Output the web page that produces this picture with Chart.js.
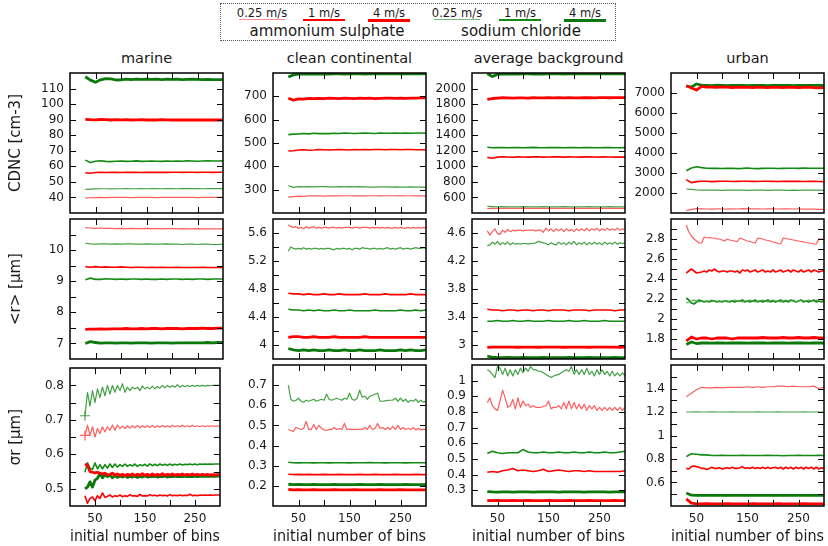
<!DOCTYPE html>
<html>
<head>
<meta charset="utf-8">
<script src="https://cdn.jsdelivr.net/npm/chart.js@4/dist/chart.umd.min.js"></script>
<style>
  body { margin: 0; background: #fff; width: 828px; height: 546px; position: relative; overflow: hidden;
         font-family: "DejaVu Sans", sans-serif; color: #1a1a1a; }
  canvas { position: absolute; }
  .region { position: absolute; top: 49px; width: 153px; text-align: center; font-size: 14.5px; line-height: 18px; }
  #legend { position: absolute; left: 220px; top: 3px; width: 396px; height: 38px; box-sizing: border-box;
            border: 1px dotted #555; }
  .speed { position: absolute; top: 2px; font-size: 11.5px; line-height: 14px; width: 70px; margin-left: -35px; text-align: center; }
  .seg { position: absolute; }
  .group { position: absolute; top: 18px; font-size: 15px; line-height: 18px; width: 200px; margin-left: -100px; text-align: center; }
</style>
</head>
<body>
<div id="legend"></div>
<script>
// bins used in the simulations (x axis)
const binsFine = [30,35,40,45,50,55,60,65,70,75,80,85,90,95,100,105,110,115,120,125,130,135,140,145,150,155,
  160,165,170,175,180,185,190,195,200,205,210,215,220,225,230,235,240,245,250,255,260,265,270,275,280,285,290,295,300];
const binsCoarse = [30,40,50,60,70,80,90,100,110,120,130,140,150,160,170,180,190,200,210,220,230,240,250,260,270,280,290,300];

const regions = ['marine', 'clean continental', 'average background', 'urban'];
const quantities = ['CDNC [cm-3]', '<r> [μm]', 'σr [μm]'];
const speeds = ['0.25 m/s', '1 m/s', '4 m/s'];

// ---- CDNC [cm-3]; each list: 0.25, 1, 4 m/s ----
const cdncMarineAS = [
  [39.7,39.8,39.9,40.0,39.9,40.0,40.0,40.1,40.0,39.9,40.0,40.1,40.0,40.0,39.9,40.0,40.1,40.0,40.0,40.0,40.1,40.0,39.9,40.0,40.0,40.1,40.0,40.0],
  [55.9,55.6,56.0,56.1,56.0,56.2,56.1,56.0,56.1,56.2,56.1,56.0,56.1,56.2,56.1,56.2,56.1,56.2,56.2,56.1,56.2,56.2,56.1,56.2,56.2,56.1,56.2,56.2],
  [90.2,90.0,89.9,90.1,90.0,89.8,90.0,89.9,90.0,89.8,89.9,90.0,89.8,89.9,89.8,90.0,89.9,89.8,89.9,89.8,89.9,89.8,89.9,89.8,89.9,89.8,89.8,89.8]
];
const cdncMarineNaCl = [
  [45.2,45.4,45.5,45.6,45.6,45.5,45.6,45.6,45.7,45.6,45.6,45.7,45.6,45.7,45.7,45.6,45.7,45.7,45.6,45.7,45.7,45.7,45.7,45.6,45.7,45.7,45.7,45.7],
  [64.0,62.5,63.3,63.6,63.2,63.0,63.3,63.4,63.2,63.3,63.5,63.2,63.3,63.4,63.3,63.2,63.4,63.3,63.4,63.3,63.5,63.4,63.3,63.4,63.5,63.4,63.4,63.5],
  [117.6,115.4,114.0,115.6,116.4,116.2,115.5,115.6,116.0,115.8,116.0,115.9,116.1,115.9,116.0,115.8,116.0,115.9,116.0,115.8,115.9,116.0,115.9,115.8,115.9,115.8,115.8,115.8]
];
const cdncCleanAS = [
  [268,270,272,271,273,274,273,272,273,274,273,274,274,273,274,273,274,274,273,274,274,274,273,274,274,273,273,273],
  [466,467,470,471,469,470,472,471,470,471,472,471,470,472,471,472,471,472,472,471,472,472,471,472,472,471,471,471],
  [692,684,689,688,691,690,691,690,692,691,690,692,691,690,692,691,692,690,691,692,692,691,692,691,692,692,693,693]
];
const cdncCleanNaCl = [
  [318,310,313,312,313,312,313,313,312,312,313,312,313,312,313,312,311,311,312,312,311,312,311,311,312,311,311,311],
  [536,538,539,541,539,542,540,541,540,542,541,543,542,541,542,543,542,541,543,542,542,543,542,543,542,543,543,542],
  [783,792,795,796,795,796,795,796,795,796,796,795,796,797,796,795,796,796,797,796,796,797,796,796,797,796,796,797]
];
const cdncAverageAS = [
  [455,460,458,461,459,460,461,460,459,461,460,459,460,461,460,461,460,459,460,461,460,459,460,461,460,460,459,460],
  [1115,1105,1118,1124,1120,1117,1122,1120,1118,1121,1123,1119,1120,1122,1121,1119,1122,1120,1118,1121,1122,1120,1119,1121,1120,1118,1119,1118],
  [1860,1872,1878,1882,1879,1876,1881,1880,1878,1882,1879,1881,1883,1880,1882,1879,1883,1881,1880,1884,1882,1881,1883,1884,1882,1883,1884,1884]
];
const cdncAverageNaCl = [
  [485,482,480,481,480,479,480,481,480,479,480,481,480,479,480,481,480,479,480,480,481,480,479,480,481,480,480,480],
  [1245,1238,1240,1242,1238,1240,1243,1239,1241,1244,1240,1238,1242,1240,1241,1239,1242,1240,1238,1241,1240,1239,1238,1241,1240,1239,1238,1240],
  [2190,2155,2182,2187,2185,2189,2187,2190,2188,2186,2189,2187,2190,2188,2189,2187,2190,2188,2189,2191,2189,2190,2188,2189,2190,2189,2188,2189]
];
const cdncUrbanAS = [
  [1120,1180,1220,1210,1200,1195,1205,1200,1195,1210,1200,1215,1205,1210,1205,1200,1210,1205,1200,1210,1205,1200,1205,1195,1200,1190,1185,1180],
  [2660,2520,2570,2590,2585,2570,2580,2590,2585,2575,2580,2590,2585,2580,2575,2585,2590,2580,2575,2585,2580,2580,2585,2575,2580,2585,2575,2570],
  [7360,7250,7150,7330,7290,7300,7280,7310,7290,7270,7300,7280,7290,7270,7300,7280,7270,7290,7280,7270,7290,7280,7270,7280,7290,7270,7260,7270]
];
const cdncUrbanNaCl = [
  [2200,2180,2150,2140,2145,2150,2140,2135,2140,2145,2150,2140,2135,2140,2145,2140,2135,2140,2145,2140,2135,2140,2135,2140,2145,2140,2140,2135],
  [3110,3250,3310,3270,3240,3230,3235,3225,3230,3240,3220,3230,3250,3225,3220,3230,3240,3235,3225,3230,3240,3235,3230,3245,3240,3235,3240,3240],
  [7350,7300,7450,7390,7380,7370,7390,7380,7370,7385,7375,7380,7370,7385,7375,7380,7370,7380,7385,7375,7380,7370,7380,7375,7385,7380,7375,7380]
];

// ---- mean radius <r> [um] ----
const radMarineAS = [
  [10.72,10.71,10.70,10.71,10.70,10.70,10.69,10.70,10.69,10.70,10.69,10.69,10.70,10.69,10.69,10.68,10.69,10.69,10.68,10.69,10.68,10.68,10.69,10.68,10.68,10.68,10.68,10.68],
  [9.47,9.45,9.47,9.45,9.46,9.45,9.45,9.46,9.45,9.44,9.45,9.45,9.44,9.45,9.44,9.45,9.44,9.44,9.45,9.44,9.44,9.44,9.44,9.45,9.44,9.44,9.44,9.44],
  [7.45,7.46,7.46,7.47,7.46,7.47,7.47,7.47,7.48,7.47,7.47,7.48,7.47,7.48,7.48,7.47,7.48,7.48,7.48,7.47,7.48,7.48,7.48,7.49,7.48,7.48,7.49,7.49]
];
const radMarineNaCl = [
  [10.22,10.20,10.19,10.20,10.20,10.19,10.20,10.19,10.20,10.20,10.19,10.19,10.20,10.19,10.19,10.19,10.20,10.19,10.19,10.18,10.19,10.19,10.18,10.19,10.19,10.18,10.18,10.19],
  [9.05,9.10,9.06,9.06,9.08,9.07,9.06,9.07,9.06,9.07,9.07,9.06,9.07,9.06,9.06,9.07,9.06,9.07,9.07,9.06,9.07,9.06,9.07,9.07,9.06,9.07,9.07,9.07],
  [7.00,7.06,7.03,7.01,7.02,7.02,7.01,7.02,7.02,7.01,7.02,7.02,7.02,7.01,7.02,7.02,7.02,7.01,7.02,7.02,7.02,7.02,7.02,7.02,7.03,7.02,7.03,7.03]
];
const radCleanAS = [
  [5.72,5.69,5.68,5.69,5.67,5.68,5.66,5.69,5.67,5.68,5.69,5.67,5.68,5.67,5.68,5.68,5.67,5.68,5.68,5.67,5.68,5.67,5.68,5.68,
   5.68,5.67,5.68,5.68,5.67,5.68,5.68,5.68,5.67,5.68,5.67,5.68,5.67,5.68,5.67,5.68,5.67,5.67,5.68,5.67,5.68,5.67,5.67,5.68,
   5.67,5.68,5.67,5.68,5.67,5.68,5.67],
  [4.74,4.73,4.73,4.72,4.73,4.72,4.72,4.73,4.72,4.72,4.73,4.72,4.72,4.72,4.72,4.73,4.72,4.72,4.72,4.73,4.72,4.72,4.72,4.72,4.73,4.72,4.72,4.72],
  [4.11,4.12,4.12,4.11,4.11,4.12,4.11,4.11,4.11,4.12,4.11,4.11,4.11,4.11,4.11,4.12,4.11,4.11,4.11,4.11,4.11,4.11,4.11,4.11,4.11,4.11,4.11,4.11]
];
const radCleanNaCl = [
  [5.34,5.40,5.38,5.37,5.38,5.37,5.39,5.37,5.38,5.37,5.38,5.38,5.37,5.38,5.37,5.38,5.38,5.37,5.36,5.38,5.37,5.38,5.38,5.37,
   5.38,5.36,5.38,5.38,5.37,5.39,5.38,5.38,5.37,5.38,5.38,5.37,5.38,5.37,5.38,5.39,5.37,5.38,5.37,5.38,5.39,5.37,5.38,5.38,
   5.37,5.38,5.39,5.38,5.38,5.39,5.38],
  [4.51,4.50,4.50,4.49,4.50,4.49,4.50,4.49,4.49,4.50,4.49,4.49,4.50,4.49,4.49,4.49,4.49,4.50,4.49,4.49,4.49,4.49,4.50,4.49,4.49,4.50,4.49,4.50],
  [3.95,3.93,3.92,3.93,3.92,3.93,3.92,3.92,3.93,3.92,3.92,3.93,3.92,3.92,3.93,3.92,3.92,3.92,3.93,3.92,3.92,3.92,3.93,3.92,3.93,3.92,3.92,3.93]
];
const radAverageAS = [
  [4.63,4.57,4.62,4.66,4.59,4.58,4.64,4.61,4.65,4.62,4.64,4.63,4.64,4.64,4.63,4.64,4.64,4.64,4.64,4.63,4.64,4.64,4.61,4.67,
   4.63,4.66,4.62,4.66,4.63,4.66,4.62,4.66,4.63,4.65,4.62,4.66,4.63,4.66,4.63,4.67,4.63,4.66,4.64,4.67,4.63,4.66,4.64,4.67,
   4.64,4.66,4.64,4.67,4.64,4.66,4.65],
  [3.51,3.50,3.50,3.49,3.50,3.50,3.49,3.50,3.50,3.49,3.50,3.50,3.49,3.50,3.50,3.50,3.49,3.50,3.50,3.50,3.49,3.50,3.50,3.50,3.50,3.49,3.50,3.50],
  [2.965,2.97,2.97,2.97,2.97,2.97,2.968,2.97,2.97,2.97,2.968,2.97,2.97,2.97,2.97,2.968,2.97,2.97,2.97,2.97,2.968,2.97,2.97,2.97,2.97,2.97,2.968,2.97]
];
const radAverageNaCl = [
  [4.42,4.43,4.47,4.44,4.48,4.43,4.46,4.44,4.47,4.43,4.46,4.44,4.45,4.44,4.45,4.45,4.44,4.45,4.45,4.46,4.48,4.47,4.46,4.45,
   4.43,4.46,4.44,4.43,4.47,4.44,4.46,4.43,4.47,4.44,4.48,4.43,4.46,4.44,4.47,4.43,4.46,4.44,4.47,4.44,4.46,4.43,4.47,4.44,
   4.46,4.44,4.47,4.44,4.46,4.45,4.46],
  [3.34,3.34,3.35,3.34,3.34,3.35,3.34,3.34,3.35,3.34,3.34,3.34,3.35,3.34,3.34,3.34,3.35,3.34,3.34,3.35,3.34,3.34,3.34,3.35,3.34,3.34,3.34,3.34],
  [2.84,2.825,2.82,2.82,2.822,2.82,2.82,2.822,2.82,2.82,2.82,2.822,2.82,2.82,2.82,2.82,2.822,2.82,2.82,2.82,2.822,2.82,2.82,2.82,2.82,2.822,2.82,2.82]
];
const radUrbanAS = [
  [2.94,2.87,2.83,2.80,2.78,2.76,2.76,2.82,2.81,2.815,2.81,2.81,2.80,2.80,2.79,2.78,2.80,2.79,2.785,2.78,2.775,2.81,2.80,2.79,
   2.78,2.775,2.765,2.76,2.81,2.805,2.80,2.79,2.785,2.78,2.77,2.765,2.755,2.75,2.81,2.805,2.80,2.795,2.79,2.785,2.78,2.775,2.77,2.765,
   2.76,2.755,2.75,2.75,2.80,2.80,2.80],
  [2.46,2.48,2.50,2.48,2.46,2.465,2.47,2.48,2.47,2.49,2.48,2.50,2.48,2.47,2.48,2.48,2.47,2.48,2.48,2.47,2.48,2.46,2.49,2.48,
   2.49,2.47,2.48,2.49,2.47,2.48,2.49,2.47,2.48,2.47,2.49,2.47,2.48,2.49,2.47,2.48,2.49,2.47,2.49,2.48,2.47,2.49,2.47,2.48,
   2.49,2.47,2.49,2.48,2.47,2.48,2.48],
  [1.78,1.82,1.80,1.81,1.81,1.80,1.81,1.81,1.81,1.80,1.81,1.81,1.81,1.81,1.81,1.815,1.81,1.81,1.81,1.815,1.81,1.81,1.815,1.81,1.81,1.815,1.81,1.81]
];
const radUrbanNaCl = [
  [2.16,2.17,2.18,2.19,2.18,2.17,2.18,2.18,2.17,2.18,2.19,2.18,2.18,2.17,2.18,2.18,2.17,2.18,2.18,2.19,2.18,2.18,2.17,2.18,
   2.18,2.19,2.18,2.17,2.18,2.18,2.19,2.18,2.17,2.18,2.19,2.18,2.18,2.17,2.18,2.19,2.18,2.18,2.19,2.17,2.18,2.19,2.18,2.18,
   2.19,2.18,2.18,2.19,2.18,2.18,2.18],
  [2.21,2.19,2.16,2.15,2.17,2.19,2.18,2.17,2.18,2.17,2.18,2.18,2.17,2.18,2.17,2.18,2.18,2.17,2.18,2.17,2.18,2.18,2.19,2.17,
   2.18,2.17,2.18,2.19,2.17,2.18,2.17,2.18,2.19,2.17,2.18,2.17,2.18,2.19,2.17,2.18,2.17,2.19,2.18,2.17,2.18,2.19,2.17,2.18,
   2.17,2.18,2.19,2.17,2.18,2.17,2.18],
  [1.745,1.77,1.755,1.76,1.76,1.758,1.76,1.76,1.758,1.76,1.76,1.76,1.758,1.76,1.76,1.76,1.758,1.76,1.76,1.76,1.758,1.76,1.76,1.76,1.758,1.76,1.76,1.76]
];

// ---- width of the spectrum sigma_r [um] ----
const sigMarineAS = [
  [0.655,0.685,0.655,0.68,0.65,0.675,0.66,0.68,0.665,0.68,0.67,0.685,0.67,0.685,0.675,0.682,0.675,0.683,0.676,0.683,0.677,0.684,0.677,0.683,
   0.678,0.683,0.678,0.684,0.678,0.683,0.679,0.684,0.679,0.683,0.679,0.684,0.68,0.683,0.68,0.684,0.68,0.683,0.68,0.684,0.68,0.683,0.68,0.683,
   0.68,0.683,0.681,0.683,0.681,0.682,0.682],
  [0.48,0.458,0.472,0.476,0.465,0.48,0.472,0.488,0.475,0.478,0.482,0.476,0.48,0.478,0.482,0.477,0.48,0.478,0.483,0.479,0.48,0.478,0.484,0.479,
   0.48,0.479,0.483,0.48,0.481,0.479,0.482,0.48,0.481,0.479,0.483,0.48,0.481,0.48,0.482,0.48,0.481,0.48,0.484,0.48,0.481,0.48,0.482,0.481,
   0.482,0.481,0.482,0.481,0.482,0.482,0.482],
  [0.572,0.568,0.55,0.548,0.546,0.548,0.545,0.543,0.545,0.54,0.542,0.545,0.54,0.543,0.539,0.542,0.538,0.542,0.539,0.543,0.538,0.542,0.539,0.544,
   0.539,0.542,0.538,0.543,0.539,0.542,0.539,0.544,0.539,0.542,0.54,0.543,0.539,0.542,0.54,0.543,0.539,0.542,0.54,0.543,0.54,0.542,0.54,0.542,
   0.54,0.542,0.54,0.541,0.54,0.541,0.541]
];
const sigMarineNaCl = [
  [0.712,0.78,0.74,0.785,0.75,0.79,0.765,0.795,0.77,0.80,0.775,0.80,0.78,0.80,0.785,0.805,0.78,0.795,0.785,0.795,0.79,0.795,0.785,0.798,
   0.79,0.795,0.79,0.798,0.79,0.797,0.792,0.80,0.793,0.80,0.795,0.80,0.795,0.802,0.795,0.80,0.796,0.80,0.797,0.80,0.797,0.80,0.798,0.80,
   0.798,0.80,0.799,0.80,0.80,0.80,0.80],
  [0.548,0.575,0.56,0.556,0.575,0.558,0.57,0.558,0.57,0.56,0.572,0.562,0.572,0.563,0.57,0.565,0.572,0.565,0.57,0.566,0.572,0.565,0.57,0.567,
   0.571,0.566,0.572,0.567,0.571,0.567,0.572,0.568,0.571,0.568,0.572,0.568,0.571,0.569,0.572,0.569,0.571,0.57,0.572,0.57,0.572,0.57,0.572,0.571,
   0.572,0.571,0.572,0.571,0.572,0.572,0.572],
  [0.50,0.505,0.52,0.505,0.525,0.53,0.545,0.532,0.54,0.535,0.54,0.532,0.538,0.533,0.537,0.534,0.538,0.533,0.536,0.534,0.537,0.533,0.536,0.534,
   0.537,0.534,0.536,0.535,0.537,0.534,0.536,0.535,0.537,0.534,0.536,0.535,0.537,0.535,0.536,0.535,0.537,0.535,0.536,0.535,0.537,0.535,0.536,0.536,
   0.537,0.536,0.536,0.537,0.536,0.537,0.537]
];
const sigCleanAS = [
  [0.48,0.475,0.47,0.49,0.485,0.48,0.485,0.52,0.48,0.48,0.505,0.48,0.50,0.485,0.478,0.475,0.48,0.48,0.49,0.48,0.485,0.48,0.51,0.48,
   0.48,0.48,0.48,0.48,0.48,0.48,0.49,0.48,0.50,0.48,0.485,0.51,0.485,0.49,0.48,0.49,0.48,0.495,0.48,0.50,0.48,0.49,0.48,0.485,
   0.48,0.49,0.478,0.485,0.478,0.48,0.48],
  [0.258,0.256,0.257,0.256,0.257,0.256,0.256,0.257,0.256,0.256,0.257,0.256,0.256,0.256,0.257,0.256,0.256,0.257,0.256,0.256,0.256,0.257,0.256,0.256,0.256,0.257,0.256,0.256],
  [0.182,0.18,0.181,0.18,0.18,0.181,0.18,0.18,0.18,0.181,0.18,0.18,0.18,0.181,0.18,0.18,0.18,0.18,0.181,0.18,0.18,0.18,0.181,0.18,0.18,0.18,0.18,0.18]
];
const sigCleanNaCl = [
  [0.70,0.63,0.62,0.625,0.635,0.62,0.615,0.625,0.62,0.625,0.63,0.62,0.625,0.63,0.625,0.655,0.63,0.625,0.63,0.635,0.63,0.625,0.635,0.63,
   0.66,0.63,0.625,0.635,0.675,0.64,0.645,0.63,0.645,0.65,0.655,0.66,0.62,0.62,0.622,0.624,0.625,0.626,0.635,0.62,0.635,0.62,0.63,0.615,
   0.625,0.62,0.63,0.615,0.625,0.615,0.62],
  [0.317,0.315,0.314,0.315,0.315,0.314,0.315,0.315,0.314,0.315,0.315,0.315,0.314,0.315,0.315,0.315,0.316,0.315,0.315,0.314,0.315,0.315,0.315,0.314,0.315,0.315,0.315,0.315],
  [0.208,0.206,0.207,0.206,0.206,0.207,0.206,0.206,0.206,0.207,0.206,0.206,0.206,0.206,0.207,0.206,0.206,0.206,0.207,0.206,0.206,0.206,0.206,0.207,0.206,0.206,0.206,0.206]
];
const sigAverageAS = [
  [0.86,0.89,0.84,0.82,0.81,0.87,0.94,0.89,0.83,0.84,0.88,0.82,0.89,0.83,0.87,0.84,0.85,0.83,0.84,0.83,0.83,0.83,0.835,0.84,
   0.87,0.82,0.83,0.83,0.84,0.82,0.86,0.82,0.87,0.82,0.86,0.82,0.85,0.82,0.85,0.81,0.84,0.82,0.84,0.81,0.83,0.81,0.83,0.81,
   0.83,0.81,0.83,0.81,0.83,0.81,0.83],
  [0.415,0.42,0.415,0.425,0.43,0.44,0.425,0.43,0.425,0.42,0.425,0.435,0.42,0.425,0.43,0.425,0.42,0.425,0.425,0.42,0.425,0.42,0.42,0.42,0.42,0.42,0.42,0.425],
  [0.235,0.234,0.235,0.234,0.234,0.235,0.234,0.234,0.235,0.234,0.234,0.234,0.235,0.234,0.234,0.234,0.235,0.234,0.234,0.234,0.235,0.234,0.234,0.234,0.234,0.235,0.234,0.234]
];
const sigAverageNaCl = [
  [1.07,1.06,1.04,1.02,1.09,1.08,1.04,1.08,1.03,1.07,1.03,1.07,1.04,1.08,1.05,1.08,1.06,1.09,1.07,1.07,1.06,1.06,1.05,1.04,
   1.03,1.02,1.03,1.035,1.04,1.05,1.06,1.07,1.06,1.09,1.04,1.07,1.04,1.07,1.04,1.08,1.04,1.06,1.03,1.07,1.04,1.07,1.04,1.06,
   1.03,1.06,1.03,1.05,1.03,1.05,1.03],
  [0.535,0.55,0.54,0.535,0.54,0.54,0.54,0.56,0.545,0.54,0.54,0.545,0.54,0.54,0.545,0.54,0.54,0.545,0.54,0.54,0.545,0.54,0.54,0.545,0.54,0.54,0.545,0.55],
  [0.292,0.29,0.289,0.29,0.29,0.289,0.29,0.29,0.29,0.289,0.29,0.29,0.29,0.29,0.289,0.29,0.29,0.29,0.29,0.289,0.29,0.29,0.29,0.29,0.289,0.29,0.29,0.29]
];
const sigUrbanAS = [
  [1.33,1.36,1.39,1.41,1.405,1.405,1.41,1.405,1.41,1.41,1.41,1.41,1.415,1.41,1.415,1.41,1.415,1.415,1.42,1.42,1.415,1.42,1.415,1.415,1.415,1.42,1.40,1.41],
  [0.72,0.715,0.735,0.74,0.735,0.73,0.72,0.72,0.71,0.72,0.73,0.72,0.72,0.725,0.715,0.72,0.725,0.72,0.73,0.72,0.72,0.725,0.735,0.72,
   0.725,0.72,0.73,0.72,0.725,0.72,0.73,0.72,0.73,0.72,0.725,0.73,0.72,0.73,0.715,0.73,0.72,0.73,0.715,0.73,0.72,0.73,0.715,0.73,
   0.72,0.73,0.715,0.73,0.715,0.725,0.72],
  [0.46,0.425,0.418,0.418,0.42,0.418,0.418,0.418,0.42,0.418,0.418,0.418,0.418,0.42,0.418,0.418,0.418,0.418,0.42,0.418,0.418,0.418,0.418,0.42,0.418,0.418,0.418,0.418]
];
const sigUrbanNaCl = [
  [1.20,1.20,1.201,1.20,1.20,1.201,1.20,1.20,1.20,1.201,1.20,1.20,1.20,1.20,1.201,1.20,1.20,1.20,1.201,1.20,1.20,1.20,1.20,1.201,1.20,1.20,1.20,1.20],
  [0.82,0.845,0.84,0.835,0.835,0.83,0.83,0.832,0.83,0.83,0.83,0.832,0.83,0.83,0.83,0.83,0.832,0.83,0.83,0.828,0.83,0.83,0.832,0.83,0.83,0.83,0.832,0.83],
  [0.51,0.492,0.49,0.49,0.491,0.49,0.49,0.49,0.491,0.49,0.49,0.49,0.49,0.491,0.49,0.49,0.49,0.49,0.491,0.49,0.49,0.49,0.49,0.491,0.49,0.49,0.49,0.49]
];

// rows: CDNC, <r>, sigma; columns: the four aerosol types
const panelSeries = [
  [[cdncMarineAS, cdncMarineNaCl], [cdncCleanAS, cdncCleanNaCl], [cdncAverageAS, cdncAverageNaCl], [cdncUrbanAS, cdncUrbanNaCl]],
  [[radMarineAS, radMarineNaCl], [radCleanAS, radCleanNaCl], [radAverageAS, radAverageNaCl], [radUrbanAS, radUrbanNaCl]],
  [[sigMarineAS, sigMarineNaCl], [sigCleanAS, sigCleanNaCl], [sigAverageAS, sigAverageNaCl], [sigUrbanAS, sigUrbanNaCl]]
];

// y axis ranges, labelled ticks and spacing of the tick marks
const yRanges = [
  [[30, 120], [200, 800], [400, 2200], [1000, 8000]],
  [[6.5, 11], [3.8, 5.8], [2.8, 4.8], [1.6, 3.0]],
  [[0.45, 0.85], [0.1, 0.8], [0.2, 1.1], [0.4, 1.6]]
];
const yTickLabels = [
  [[40, 50, 60, 70, 80, 90, 100, 110], [300, 400, 500, 600, 700], [600, 800, 1000, 1200, 1400, 1600, 1800, 2000], [2000, 3000, 4000, 5000, 6000, 7000]],
  [[7, 8, 9, 10], [4, 4.4, 4.8, 5.2, 5.6], [3, 3.4, 3.8, 4.2, 4.6], [1.8, 2, 2.2, 2.4, 2.6, 2.8]],
  [[0.5, 0.6, 0.7, 0.8], [0.2, 0.3, 0.4, 0.5, 0.6, 0.7], [0.3, 0.4, 0.5, 0.6, 0.7, 0.8, 0.9, 1], [0.6, 0.8, 1, 1.2, 1.4]]
];
const yMarkStep = [[10, 100, 200, 1000], [0.5, 0.2, 0.2, 0.1], [0.05, 0.1, 0.1, 0.1]];
const xTickLabels = [50, 150, 250];
const xMarks = [50, 100, 150, 200, 250];

const asStyle = [
  { color: '#ff5c5c', width: 1.2 },
  { color: '#ff0000', width: 1.6 },
  { color: '#ff0000', width: 2.8 }
];
const naclStyle = [
  { color: '#44a044', width: 1.2 },
  { color: '#138a13', width: 1.6 },
  { color: '#0b780b', width: 2.8 }
];
// key segments are drawn a little paler for the slowest updraft
const keyColors = [['#ff9090', '#ff0000', '#ff0000'], ['#78bb78', '#138a13', '#0b780b']];

// panel geometry
const colLeft = [70, 273, 472, 671];
const rowTop = [73, 219, 365];
const rowHeight = [140, 140, 141];
const PLOT_W = 153;
const PAD = 3;

Chart.defaults.font.family = "'DejaVu Sans', sans-serif";
Chart.defaults.color = '#1a1a1a';

const fmt = v => String(+(+v).toFixed(3));

// gnuplot-like frame with inward tick marks on all four sides
const frameTicks = {
  id: 'frameTicks',
  afterDatasetsDraw(chart, args, opts) {
    const { ctx, chartArea: a, scales: { x, y } } = chart;
    const len = 6;
    ctx.save();
    ctx.strokeStyle = '#000';
    ctx.lineWidth = 1;
    ctx.beginPath();
    xMarks.forEach(v => {
      const px = Math.round(x.getPixelForValue(v)) + 0.5;
      ctx.moveTo(px, a.bottom); ctx.lineTo(px, a.bottom - len);
      ctx.moveTo(px, a.top); ctx.lineTo(px, a.top + len);
    });
    const [lo, hi] = opts.range;
    const n = Math.round((hi - lo) / opts.step);
    for (let i = 1; i < n; i++) {
      const py = Math.round(y.getPixelForValue(lo + i * opts.step)) + 0.5;
      ctx.moveTo(a.left, py); ctx.lineTo(a.left + len, py);
      ctx.moveTo(a.right, py); ctx.lineTo(a.right - len, py);
    }
    ctx.stroke();
    ctx.lineWidth = 1.5;
    ctx.strokeRect(Math.round(a.left), Math.round(a.top), Math.round(a.width), Math.round(a.height));
    ctx.restore();
  }
};

function buildDatasets(row, col) {
  const [asSets, naclSets] = panelSeries[row][col];
  const sets = [];
  [[asSets, asStyle, 'ammonium sulphate'], [naclSets, naclStyle, 'sodium chloride']].forEach(([lists, styles, salt]) => {
    lists.forEach((vals, k) => {
      const xs = vals.length === binsFine.length ? binsFine : binsCoarse;
      // the first point of the slow-updraft marine widths carries a cross
      const cross = row === 2 && col === 0 && k === 0;
      sets.push({
        label: salt + ' ' + speeds[k],
        data: vals.map((v, i) => ({ x: xs[i], y: v })),
        borderColor: styles[k].color,
        backgroundColor: styles[k].color,
        borderWidth: styles[k].width,
        pointRadius: cross ? vals.map((v, i) => i === 0 ? 5 : 0) : 0,
        pointStyle: 'cross',
        pointBorderWidth: 1.2,
        pointBorderColor: styles[k].color,
        tension: 0,
        borderJoinStyle: 'round'
      });
    });
  });
  return sets;
}

function makePanel(row, col) {
  const L = col === 0 ? 70 : 50;
  const B = row === 2 ? 40 : 3;
  const h = rowHeight[row];
  const canvas = document.createElement('canvas');
  canvas.width = L + PLOT_W + PAD;
  canvas.height = PAD + h + B;
  canvas.style.left = (colLeft[col] - L) + 'px';
  canvas.style.top = (rowTop[row] - PAD) + 'px';
  document.body.appendChild(canvas);

  const [ymin, ymax] = yRanges[row][col];
  const labels = yTickLabels[row][col];
  const bottomRow = row === 2;

  new Chart(canvas, {
    type: 'line',
    data: { datasets: buildDatasets(row, col) },
    options: {
      responsive: false,
      animation: false,
      devicePixelRatio: 1,
      layout: { padding: { top: PAD, right: PAD, left: 0, bottom: 0 } },
      plugins: {
        legend: { display: false },
        tooltip: { enabled: false },
        frameTicks: { range: [ymin, ymax], step: yMarkStep[row][col] }
      },
      scales: {
        x: {
          type: 'linear', min: 0, max: 300,
          grid: { display: false, drawTicks: false },
          border: { display: false },
          afterBuildTicks: s => { s.ticks = xTickLabels.map(v => ({ value: v })); },
          ticks: { display: bottomRow, autoSkip: false, maxRotation: 0, padding: 6, font: { size: 12 }, callback: v => fmt(v) },
          title: { display: bottomRow, text: 'initial number of bins', font: { size: 15 }, padding: { top: 0, bottom: 0 } },
          afterFit: s => { s.height = B; s.paddingLeft = 0; s.paddingRight = 0; }
        },
        y: {
          type: 'linear', min: ymin, max: ymax,
          grid: { display: false, drawTicks: false },
          border: { display: false },
          afterBuildTicks: s => { s.ticks = labels.map(v => ({ value: v })); },
          ticks: { autoSkip: false, padding: 6, font: { size: 12 }, callback: v => fmt(v) },
          title: { display: col === 0, text: quantities[row], font: { size: 15 }, padding: { top: 7, bottom: 0 } },
          afterFit: s => { s.width = L; s.paddingTop = 0; s.paddingBottom = 0; }
        }
      }
    },
    plugins: [frameTicks]
  });
}

// region names above the columns
regions.forEach((name, c) => {
  const d = document.createElement('div');
  d.className = 'region';
  d.style.left = colLeft[c] + 'px';
  d.textContent = name;
  document.body.appendChild(d);
});

for (let r = 0; r < 3; r++) {
  for (let c = 0; c < 4; c++) makePanel(r, c);
}

// shared key at the top
const legend = document.getElementById('legend');
const keyCenters = [[41, 103, 168], [236, 299, 364]];
const keyHalf = [23, 21, 21];
[[asStyle, 'ammonium sulphate', 106], [naclStyle, 'sodium chloride', 300]].forEach(([styles, salt, gx], g) => {
  styles.forEach((st, k) => {
    const cx = keyCenters[g][k];
    const t = document.createElement('div');
    t.className = 'speed';
    t.style.left = cx + 'px';
    t.textContent = speeds[k];
    legend.appendChild(t);
    const s = document.createElement('div');
    s.className = 'seg';
    s.style.left = (cx - keyHalf[k]) + 'px';
    s.style.width = (2 * keyHalf[k]) + 'px';
    s.style.top = Math.round(16 - st.width / 2) + 'px';
    s.style.height = st.width + 'px';
    s.style.background = keyColors[g][k];
    legend.appendChild(s);
  });
  const gl = document.createElement('div');
  gl.className = 'group';
  gl.style.left = gx + 'px';
  gl.textContent = salt;
  legend.appendChild(gl);
});
</script>
</body>
</html>
